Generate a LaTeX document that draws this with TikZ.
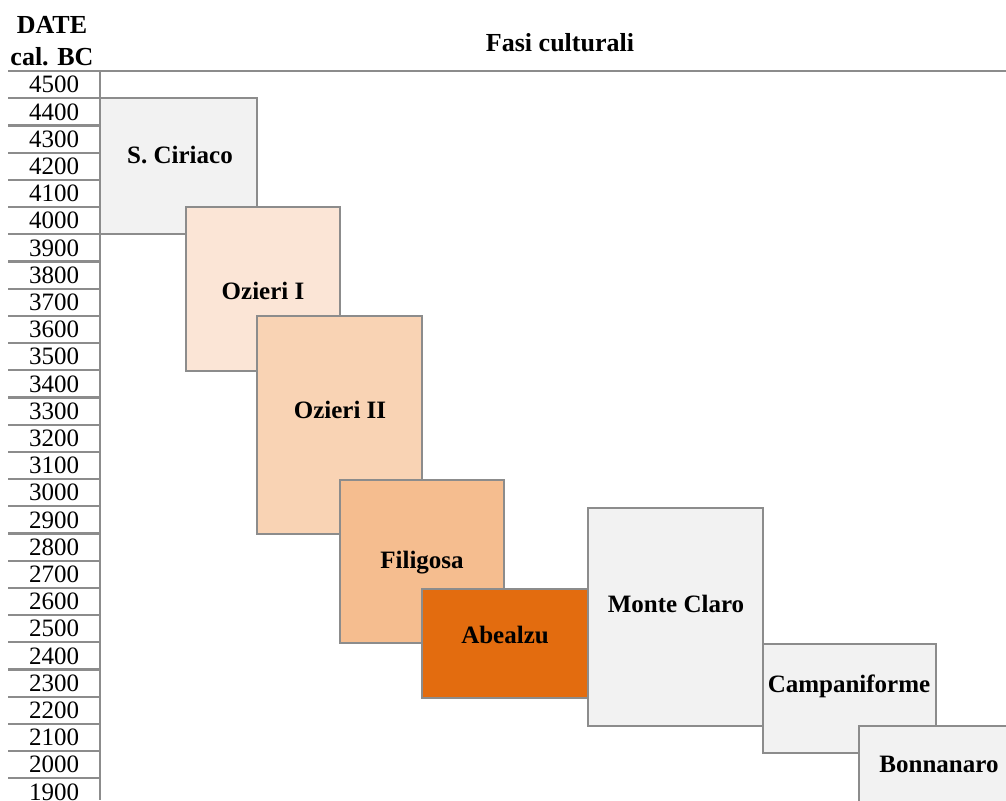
\documentclass[tikz,border=0pt]{standalone}
\usepackage{fontspec}
\setmainfont{Liberation Serif}

\definecolor{gridgray}{HTML}{8C8C8C}
\definecolor{phasegray}{HTML}{F2F2F2}
\definecolor{ozierione}{HTML}{FBE5D6}
\definecolor{ozieritwo}{HTML}{F9D3B4}
\definecolor{filigosa}{HTML}{F5BD8F}
\definecolor{abealzu}{HTML}{E36C0F}

\tikzset{
	rowline/.style={draw=gridgray, line width=1.1pt},
	phasebox/.style={draw=gridgray, line width=0.9pt},
	phaselabel/.style={font=\fontsize{12.5}{14}\selectfont\bfseries, inner sep=0pt},
	year/.style={font=\fontsize{12.5}{14}\selectfont, inner sep=0pt},
	header/.style={font=\fontsize{13}{15}\selectfont\bfseries, inner sep=0pt},
}

\begin{document}
\begin{tikzpicture}[x=0.5pt, y=-0.5pt]

% frame %{{{1

	\useasboundingbox (0,0) rectangle (1006,800);

% parameters %{{{1

	\def\rowtop{71}
	\def\rowh{27.2}

% header %{{{1

	\node[header] (date)  at (52,25) {DATE};
	\node[header] (calbc) at (52,57) {cal. BC};
	\node[header] (fasi)  at (560,43) {Fasi culturali};

% axis, rows, years %{{{1

	\coordinate (axtop) at (100,\rowtop);
	\coordinate (axbot) at (100,800);

	\foreach \i in {0,...,26} {
		\draw[rowline] (8,{\rowtop+\rowh*\i}) -- (100,{\rowtop+\rowh*\i});
		\pgfmathtruncatemacro{\yr}{4500-100*\i}
		\node[year] (y\yr) at (54,{\rowtop+\rowh*(\i+0.5)}) {\yr};
	}

	\draw[rowline] (100,\rowtop) -- (1006,\rowtop);
	\draw[rowline] (axtop) -- (axbot);

% phases %{{{1

	\draw[phasebox, fill=phasegray] (100,98) rectangle (257,234);
	\node[phaselabel] (ciriaco) at (180,155) {S. Ciriaco};

	\draw[phasebox, fill=ozierione] (186,207) rectangle (340,371);
	\node[phaselabel] (ozieri1) at (263,291) {Ozieri I};

	\draw[phasebox, fill=ozieritwo] (257,316) rectangle (422,534);
	\node[phaselabel] (ozieri2) at (340,410) {Ozieri II};

	\draw[phasebox, fill=filigosa] (340,480) rectangle (504,643);
	\node[phaselabel] (filigosa) at (422,563) {Filigosa};

	\draw[phasebox, fill=abealzu] (422,589) rectangle (588,698);
	\node[phaselabel] (abealzu) at (505,635) {Abealzu};

	\draw[phasebox, fill=phasegray] (588,508) rectangle (763,726);
	\node[phaselabel] (monteclaro) at (676,604) {Monte Claro};

	\draw[phasebox, fill=phasegray] (763,644) rectangle (936,753);
	\node[phaselabel] (campaniforme) at (849,686) {Campaniforme};

	\draw[phasebox, fill=phasegray] (859,726) rectangle (1012,806);
	\node[phaselabel] (bonnanaro) at (939,764) {Bonnanaro};

% closing %{{{1

\end{tikzpicture}
\end{document}
